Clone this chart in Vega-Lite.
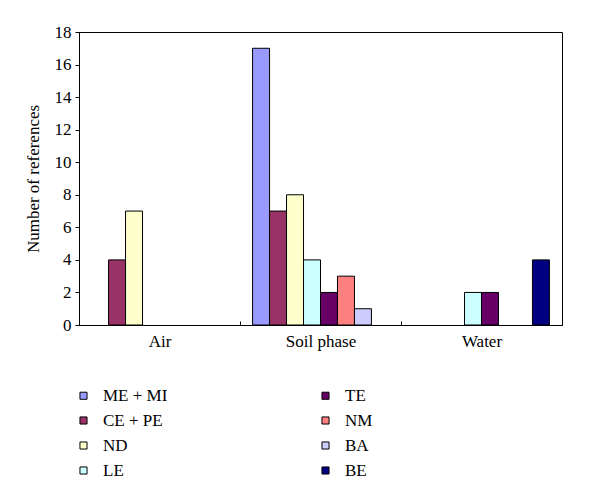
{
  "$schema": "https://vega.github.io/schema/vega-lite/v6.json",
  "width": 483,
  "height": 293,
  "autosize": {"type": "none"},
  "padding": {"left": 79, "top": 32, "right": 38, "bottom": 176},
  "background": "white",
  "config": {
    "font": "Liberation Serif",
    "view": {"stroke": "black", "strokeWidth": 1},
    "axis": {"labelFont": "Liberation Serif", "titleFont": "Liberation Serif", "labelColor": "black", "titleColor": "black", "domainColor": "black", "tickColor": "black", "grid": false, "titleFontWeight": "normal"}
  },
  "data": {
    "values": [
      {"medium": "Air", "group": "CE + PE", "count": 4},
      {"medium": "Air", "group": "ND", "count": 7},
      {"medium": "Soil phase", "group": "ME + MI", "count": 17},
      {"medium": "Soil phase", "group": "CE + PE", "count": 7},
      {"medium": "Soil phase", "group": "ND", "count": 8},
      {"medium": "Soil phase", "group": "LE", "count": 4},
      {"medium": "Soil phase", "group": "TE", "count": 2},
      {"medium": "Soil phase", "group": "NM", "count": 3},
      {"medium": "Soil phase", "group": "BA", "count": 1},
      {"medium": "Water", "group": "LE", "count": 2},
      {"medium": "Water", "group": "TE", "count": 2},
      {"medium": "Water", "group": "BE", "count": 4}
    ]
  },
  "mark": {"type": "bar", "stroke": "black", "strokeWidth": 1},
  "encoding": {
    "x": {
      "field": "medium", "type": "nominal",
      "sort": ["Air", "Soil phase", "Water"],
      "scale": {"paddingInner": 0, "paddingOuter": 0},
      "axis": {"title": null, "labelAngle": 0, "labelFontSize": 17, "labelPadding": 12, "tickBand": "extent", "tickSize": -4, "domainWidth": 1}
    },
    "xOffset": {
      "field": "group", "type": "nominal",
      "sort": ["ME + MI", "CE + PE", "ND", "LE", "TE", "NM", "BA", "BE"],
      "scale": {"domain": ["ME + MI", "CE + PE", "ND", "LE", "TE", "NM", "BA", "BE"], "paddingInner": 0, "paddingOuter": 0.74}
    },
    "y": {
      "field": "count", "type": "quantitative",
      "scale": {"domain": [0, 18], "nice": false},
      "axis": {"title": "Number of references", "titleFontSize": 17, "labelFontSize": 17, "values": [0, 2, 4, 6, 8, 10, 12, 14, 16, 18], "tickSize": 4, "labelPadding": 4, "titlePadding": 12}
    },
    "color": {
      "field": "group", "type": "nominal",
      "scale": {
        "domain": ["ME + MI", "CE + PE", "ND", "LE", "TE", "NM", "BA", "BE"],
        "range": ["#9999FF", "#993366", "#FFFFCC", "#CCFFFF", "#660066", "#FF8080", "#CCCCFF", "#000080"]
      },
      "legend": {
        "title": null,
        "orient": "none",
        "legendX": -4,
        "legendY": 355,
        "columns": 2,
        "columnPadding": 149,
        "rowPadding": 7,
        "symbolType": "square",
        "symbolSize": 50,
        "symbolStrokeColor": "black",
        "symbolStrokeWidth": 1,
        "labelFontSize": 17,
        "labelFont": "Liberation Serif",
        "labelColor": "black",
        "labelOffset": 11
      }
    }
  }
}
